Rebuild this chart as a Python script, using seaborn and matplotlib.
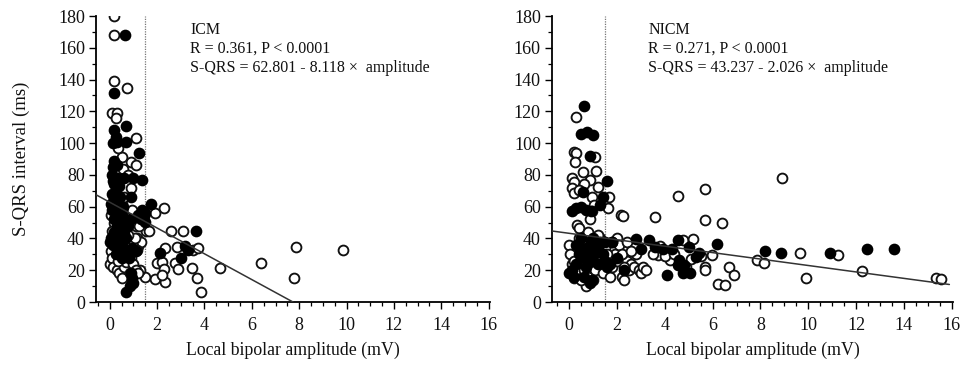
import matplotlib
matplotlib.use("Agg")
import matplotlib.pyplot as plt
from matplotlib.ticker import MultipleLocator
import seaborn as sns
import pandas as pd

# ---------------- data ----------------
icm_open_x = [0.2, 0.17, 0.2, 0.72, 0.1, 0.3, 0.25, 1.12, 0.9, 1.1, 0.5, 0.35, 0.9, 1.9, 2.3, 1.55,
              1.64, 2.6, 3.1, 1.15, 2.82, 2.34, 3.53, 3.74, 1.98, 2.2, 2.76, 2.27, 2.9, 3.49, 4.66,
              6.37, 7.86, 9.83, 7.8, 3.68, 1.92, 2.34, 2.2, 3.87, 1.47, 1.29,
              0.0, 0.05, 0.1, 0.15, 0.3, 0.4, 0.5, 0.6, 0.7, 0.8, 0.9, 1.0, 1.1, 1.2, 1.3, 1.0, 0.8,
              0.6, 0.4, 0.2, 0.1, 0.05, 0.3, 0.5, 0.7, 0.9, 1.1, 1.25, 0.65, 0.45, 0.25, 1.05, 0.85,
              0.95, 0.55, 0.75, 0.6, 0.2, 0.95, 1.15, 0.35, 0.75, 1.2]
icm_open_y = [180, 168, 139, 135, 119, 119, 116, 103, 88, 86, 91, 97, 72, 56, 59, 45,
              45, 45, 45, 40, 34.6, 34, 33, 34, 24.7, 25.4, 24.7, 21, 21, 21.6, 21.6,
              24.5, 34.8, 32.7, 15, 15, 14.5, 12.8, 17, 6.5, 16, 20,
              24, 32, 28, 22, 20, 18, 15, 22, 25, 30, 28, 24, 20, 35, 38, 35, 38,
              45, 48, 50, 45, 55, 60, 62, 55, 50, 48, 48, 35, 30, 36, 40, 18,
              12, 84, 80, 66, 64, 58, 33, 26, 42, 18]
icm_fill_x = [0.63, 0.17, 0.67, 0.2, 0.25, 0.15, 0.3, 0.7, 1.22, 0.2, 0.3, 0.15, 1.0, 1.35, 0.9,
              1.76, 1.43, 1.5, 1.5, 3.64, 3.18, 3.32, 2.13, 3.0, 0.7,
              0.1, 0.15, 0.2, 0.25, 0.1, 0.2, 0.3, 0.15, 0.25, 0.35, 0.4, 0.5, 0.6, 0.2, 0.3, 0.45,
              0.6, 0.7, 0.05, 0.0, 0.15, 0.3, 0.4, 0.5, 0.65, 0.8, 0.25, 0.35, 0.55, 0.45, 0.75,
              0.9, 1.2, 1.3, 1.35, 0.9, 0.95, 1.0, 0.85, 0.6, 0.3, 0.1, 0.05, 0.4, 0.2, 0.5, 0.95, 1.1]
icm_fill_y = [168, 131.5, 111, 108, 104, 100, 101, 101, 94, 89, 86, 85, 78, 77, 66,
              62, 54, 56, 50.5, 45, 35, 33, 31, 27.7, 6,
              80, 76, 74, 70, 68, 65, 62, 60, 58, 56, 54, 55, 52, 52, 48, 46,
              44, 40, 40, 38, 36, 34, 38, 36, 32, 28, 30, 42, 60, 66, 48,
              52, 55, 52, 58, 18, 15, 12, 10, 78, 78, 58, 62, 73, 44, 28, 34, 32]

nicm_open_x = [0.28, 0.21, 0.29, 1.08, 0.25, 0.57, 1.12, 0.11, 0.21, 0.875, 0.64, 0.11, 0.21, 0.39,
               1.2, 1.68, 0.94, 1.04, 0.94, 1.63, 2.17, 0.32, 0.43, 0.875, 2.24, 3.58, 4.55, 5.7,
               8.9, 5.7, 6.39, 4.74, 5.18, 5.99, 3.72, 4.2, 5.67, 5.67, 6.68, 6.89, 6.22, 6.53,
               9.67, 7.85, 8.13, 9.92, 11.24, 12.26, 15.35, 15.57,
               0.0, 0.05, 0.1, 0.15, 0.2, 0.3, 0.4, 0.5, 0.6, 0.7, 0.8, 0.9, 1.0, 1.1, 1.2, 1.3,
               1.4, 1.5, 1.6, 1.7, 1.8, 1.9, 2.0, 2.1, 2.2, 2.3, 2.4, 2.5, 2.6, 2.7, 2.8, 2.9,
               3.0, 3.1, 2.2, 1.8, 1.2, 0.8, 0.4, 0.2, 0.6, 1.0, 3.2, 2.4, 2.6, 3.8, 4.0, 4.4,
               5.1, 5.5, 4.9, 3.5, 0.5, 0.9, 1.6, 2.0, 2.3]
nicm_open_y = [116.6, 94.6, 94, 91.5, 88, 82, 82.4, 78, 75.7, 76.8, 74, 72, 68.6, 70.5,
               72.6, 66.3, 66.3, 61, 57, 59, 55, 48.5, 46.5, 52, 54.3, 53.7, 66.7, 71,
               77.8, 51.6, 50, 39, 39.6, 29.6, 29.6, 26.4, 22.2, 20, 21.8, 17, 11.3, 10.7,
               31, 26.4, 24.3, 15.3, 29.6, 19.7, 15.3, 14.3,
               36, 30, 24, 18, 15, 20, 28, 34, 38, 10, 16, 22, 30, 20, 26, 40,
               18, 34, 24, 16, 22, 30, 40, 36, 16, 14, 26, 20, 24, 22, 30, 20,
               18, 22, 30, 38, 42, 44, 40, 26, 20, 14, 20, 38, 32, 35, 29, 30,
               27, 29, 22, 30, 14, 26, 30, 26, 22]
nicm_fill_x = [0.64, 0.49, 0.76, 0.99, 0.85, 1.6, 0.57, 1.4, 1.29, 0.1, 0.3, 0.5, 0.7, 0.9,
               2.78, 3.35, 3.58, 3.93, 4.28, 4.53, 5.01, 5.43, 5.32, 6.18, 3.0, 4.6, 4.8, 4.55,
               4.74, 5.07, 4.07, 8.17, 8.86, 10.9, 12.47, 13.6,
               0.0, 0.1, 0.2, 0.3, 0.4, 0.5, 0.6, 0.7, 0.8, 0.9, 1.0, 1.1, 1.2, 1.3, 1.4, 1.5,
               1.6, 1.7, 1.8, 0.85, 0.95, 1.05, 0.5, 0.3, 1.2, 0.6, 1.5, 1.0, 0.7, 2.3, 2.0]
nicm_fill_y = [123.5, 105.5, 107, 105, 92, 76.4, 69.4, 66.3, 61, 57, 59, 60, 58, 57,
               39.6, 39, 34.8, 33.3, 33.3, 39, 34.4, 30.6, 28.5, 36.5, 33.2, 26.4, 23.3, 23.3,
               18.4, 18.4, 17, 32.3, 31, 30.6, 33.2, 33.2,
               18, 20, 16, 24, 30, 34, 28, 22, 32, 38, 40, 36, 34, 38, 30, 26,
               22, 24, 38, 12, 14, 30, 40, 36, 24, 16, 38, 26, 34, 20, 28]

panels = ["ICM", "NICM"]
r_text = ["R = 0.361, P < 0.0001", "R = 0.271, P < 0.0001"]
intercepts = [62.801, 43.237]
slopes = [-8.118, -2.026]
eq_text = ["S-QRS = 62.801 - 8.118 ×  amplitude", "S-QRS = 43.237 - 2.026 ×  amplitude"]
x_ticks = [0, 2, 4, 6, 8, 10, 12, 14, 16]
y_ticks = [0, 20, 40, 60, 80, 100, 120, 140, 160, 180]
cutoff = 1.5

rows = []
for p, (ox, oy, fx, fy) in zip(panels, [(icm_open_x, icm_open_y, icm_fill_x, icm_fill_y),
                                         (nicm_open_x, nicm_open_y, nicm_fill_x, nicm_fill_y)]):
    rows += [dict(panel=p, x=a, y=b, kind="open") for a, b in zip(ox, oy)]
    rows += [dict(panel=p, x=a, y=b, kind="filled") for a, b in zip(fx, fy)]
df = pd.DataFrame(rows)

# ---------------- figure ----------------
sns.set_theme(style="ticks")
plt.rcParams["font.family"] = ["Liberation Serif", "DejaVu Serif"]

fig = plt.figure(figsize=(9.66, 3.65), dpi=100)
ax_pos = [[0.0994, 0.1726, 0.4077, 0.7834], [0.5714, 0.1726, 0.4151, 0.7834]]
xlims = [(-0.58, 16.05), (-0.72, 16.05)]
line_end = [None, 15.9]

for i, p in enumerate(panels):
    ax = fig.add_axes(ax_pos[i])
    d = df[df.panel == p]
    sns.scatterplot(data=d[d.kind == "open"], x="x", y="y", ax=ax, s=50,
                    facecolor="white", edgecolor="#111111", linewidth=1.35, zorder=3)
    sns.scatterplot(data=d[d.kind == "filled"], x="x", y="y", ax=ax, s=50,
                    color="black", edgecolor="black", linewidth=1.35, zorder=4)
    ax.axvline(cutoff, color="#777777", linestyle=(0, (1, 1)), linewidth=0.9, zorder=2)
    x0 = xlims[i][0]
    x1 = line_end[i] if line_end[i] is not None else -intercepts[i] / slopes[i]
    ax.plot([x0, x1], [intercepts[i] + slopes[i] * x0, intercepts[i] + slopes[i] * x1],
            color="#333333", linewidth=1.1, zorder=5)

    ax.set_xlim(*xlims[i])
    ax.set_ylim(0, 180)
    ax.set_xticks(x_ticks)
    ax.set_yticks(y_ticks)
    ax.xaxis.set_minor_locator(MultipleLocator(0.5))
    ax.yaxis.set_minor_locator(MultipleLocator(10))
    ax.tick_params(axis="both", which="major", direction="out", length=5, width=1.0,
                   labelsize=13, color="black", labelcolor="#111111", pad=3)
    ax.tick_params(axis="both", which="minor", direction="out", length=3, width=0.9,
                   color="black")
    ax.tick_params(axis="x", which="major", pad=6)
    for s in ["top", "right"]:
        ax.spines[s].set_visible(False)
    for s in ["left", "bottom"]:
        ax.spines[s].set_linewidth(1.3)
        ax.spines[s].set_color("black")
    ax.set_xlabel("Local bipolar amplitude (mV)", fontsize=12.8, labelpad=5, color="#111111")
    if i == 0:
        ax.set_ylabel("S-QRS interval (ms)", fontsize=13.5, labelpad=20, color="#111111")
    else:
        ax.set_ylabel("")
    tx = 3.4 if i == 0 else 3.3
    ax.text(tx, 171, p, fontsize=11.5, va="center", ha="left", color="#111111")
    ax.text(tx, 159.5, r_text[i], fontsize=11.5, va="center", ha="left", color="#111111")
    ax.text(tx, 147.5, eq_text[i], fontsize=11.5, va="center", ha="left", color="#111111")

fig.savefig("out.png", dpi=100, facecolor="white")
